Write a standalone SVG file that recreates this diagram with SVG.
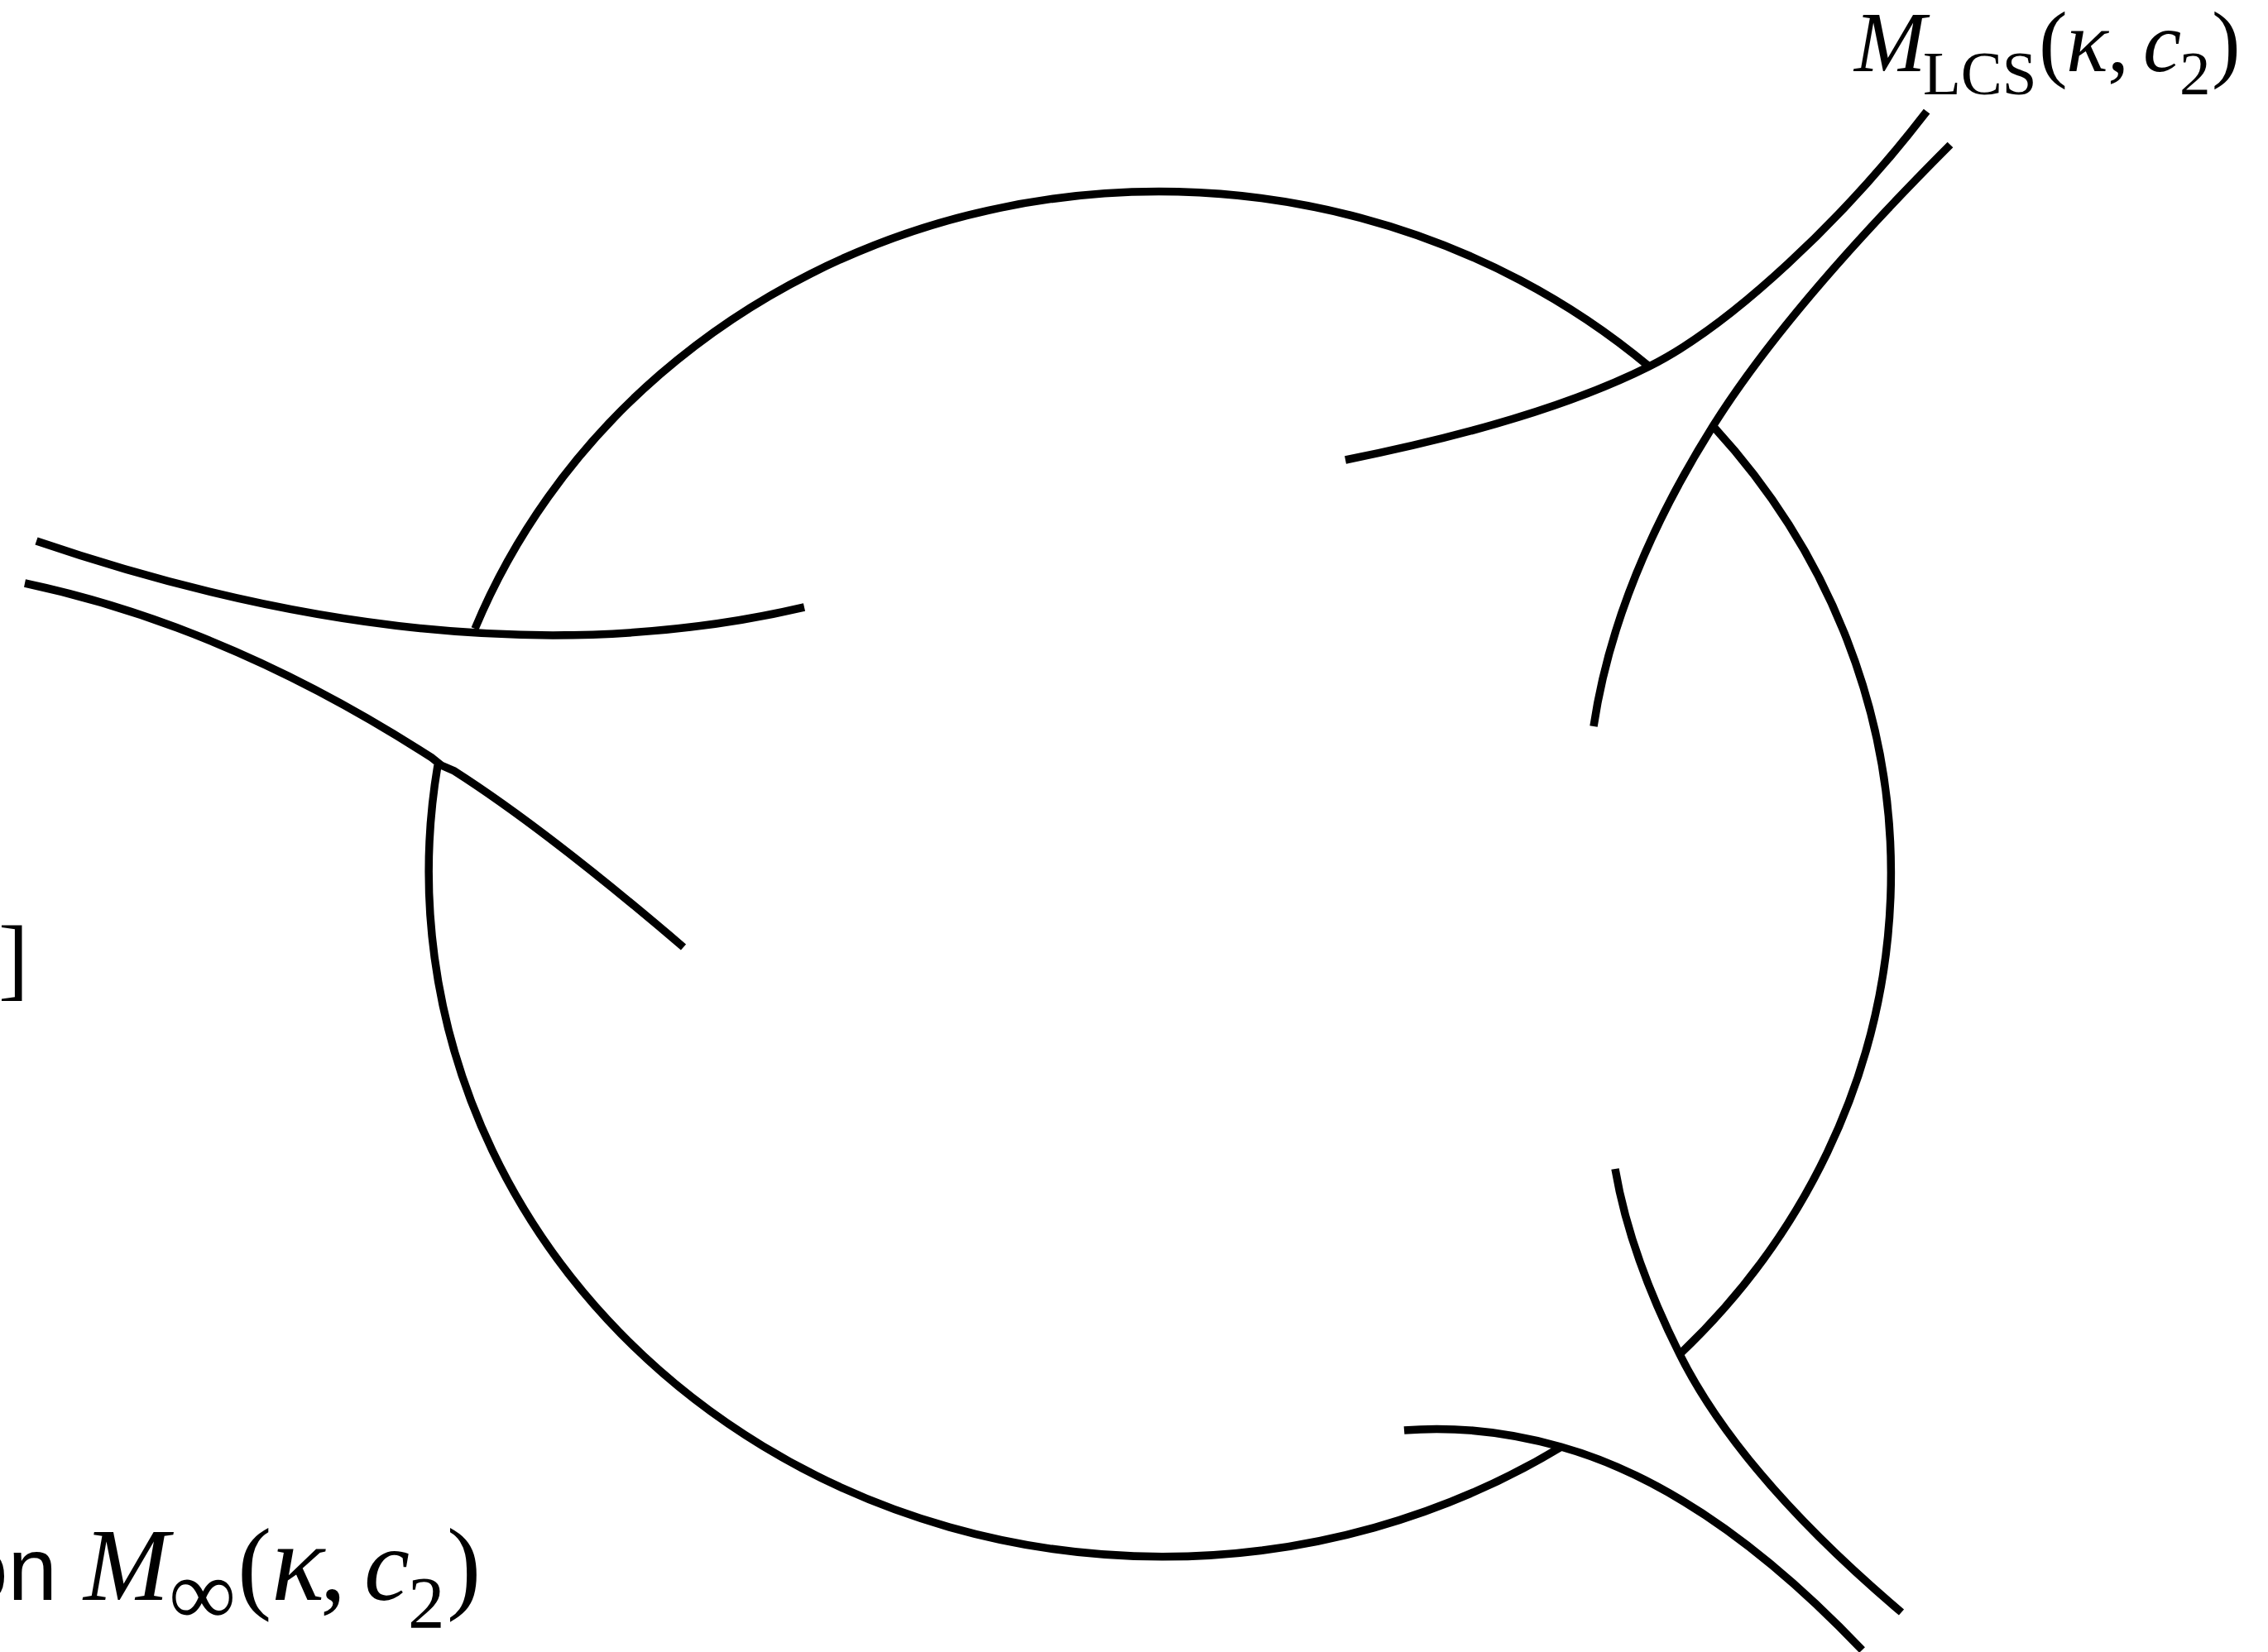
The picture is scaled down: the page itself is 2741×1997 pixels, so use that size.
<svg xmlns="http://www.w3.org/2000/svg" width="2741" height="1997" viewBox="0 0 2741 1997">
<style>
.s{fill:none;stroke:#000;stroke-width:9.5;stroke-linecap:butt;stroke-linejoin:miter}
.m{font-family:"Liberation Serif","Times New Roman",serif;fill:#000}
.i{font-style:italic}
.t{font-family:"Liberation Sans",Arial,sans-serif;fill:#000}
</style>
<rect width="2741" height="1997" fill="#fff"/>
<g id="circle">
<path class="s" d="M 574 760 A 887 828 0 0 1 1993 443"/>
<path class="s" d="M 2072 517 A 887 828 0 0 1 2030 1637"/>
<path class="s" d="M 1887 1749 A 887 828 0 0 1 529 925"/>
</g>
<g id="connectors">
<path id="strandA" class="s" d="M 1626 556 Q 1861 509 1993 443 C 2093 393 2228.6 264.7 2328.6 134.7"/>
<path id="strandB" class="s" d="M 2357 175 Q 2159 373 2069 517 Q 1952 704 1926 878"/>
<path id="strandC" class="s" d="M 1952 1413 Q 1969.5 1516 2030 1637 Q 2103.5 1784 2298 1949"/>
<path id="strandD" class="s" d="M 1697 1729 Q 1789 1721.6 1886.6 1749 Q 2064 1798.7 2250.5 1994.6"/>
<path id="strandL1" class="s" d="M 44 654 Q 560 830 972 734"/>
<path id="strandL2" class="s" d="M 30 705 Q 276 757 522 916 L 533 925 L 549 932 Q 660 1003 826 1145"/>
</g>
<g id="label-lcs">
<text class="m" font-size="104" y="86"><tspan x="2241" class="i">M</tspan><tspan x="2324" y="114" font-size="75">LCS</tspan><tspan x="2464" y="86">(</tspan><tspan x="2497" class="i" font-size="106">κ</tspan><tspan x="2547" font-size="104">,</tspan><tspan x="2590" class="i">c</tspan><tspan x="2634" y="114" font-size="75">2</tspan><tspan x="2673" y="86">)</tspan></text>
</g>
<g id="label-inf">
<text class="t" x="-50" y="1934" font-size="107">on</text>
<text class="m" font-size="124" y="1934"><tspan x="101" class="i">M</tspan><tspan x="204" y="1964" font-size="114">∞</tspan><tspan x="287" y="1934">(</tspan><tspan x="328" class="i" font-size="134">κ</tspan><tspan x="387" font-size="124">,</tspan><tspan x="440" class="i">c</tspan><tspan x="493" y="1967" font-size="89">2</tspan><tspan x="540" y="1934">)</tspan></text>
</g>
<g id="bracket">
<text class="m" x="-2" y="1195" font-size="110">]</text>
</g>
</svg>
